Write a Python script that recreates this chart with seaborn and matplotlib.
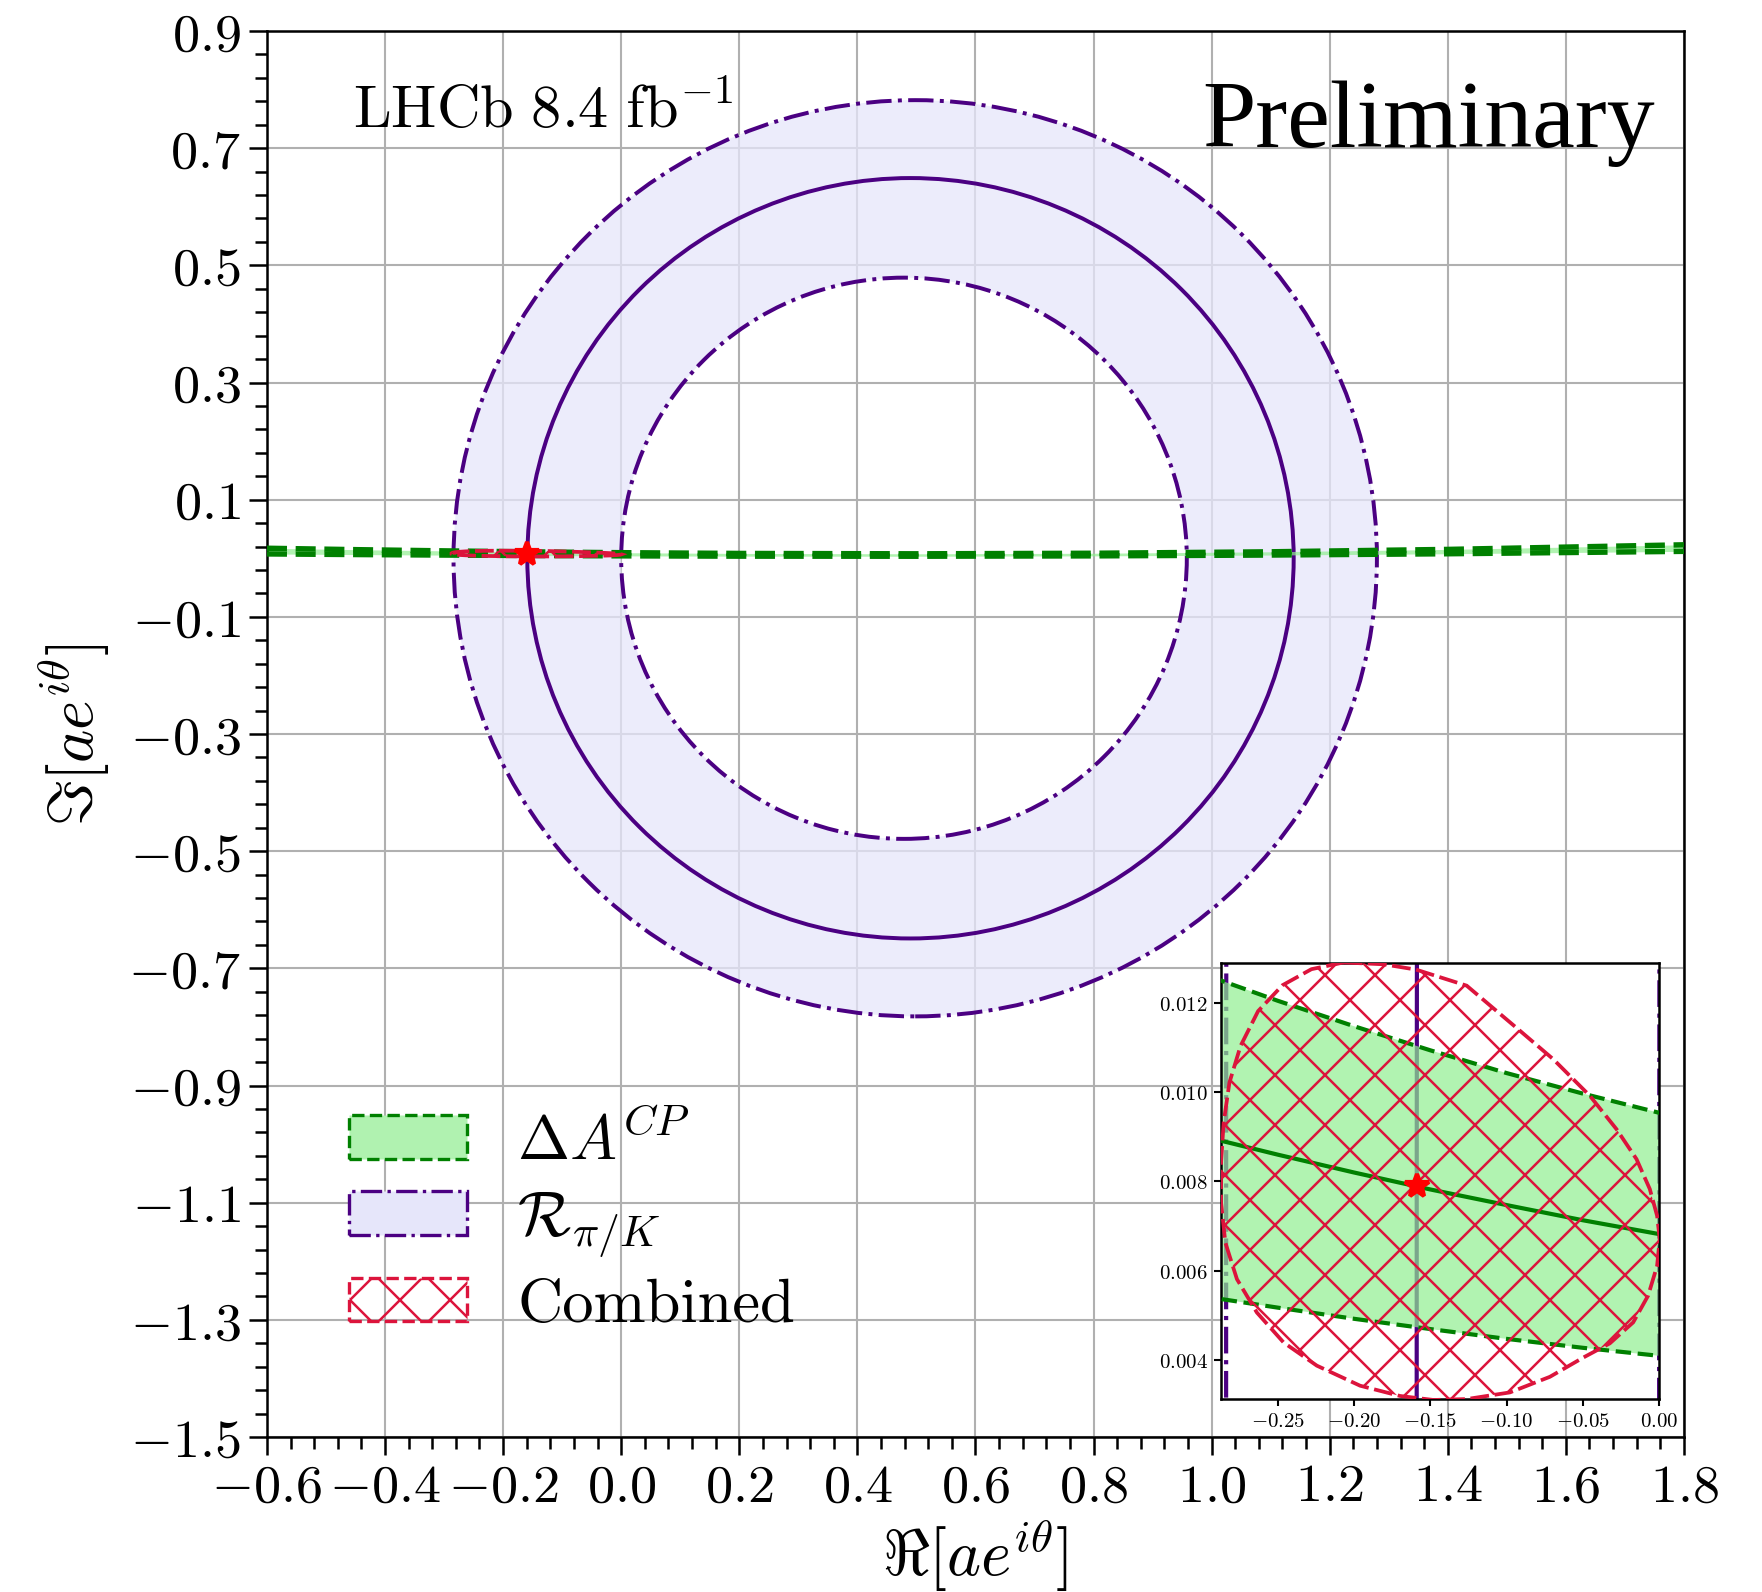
import numpy as np
import matplotlib
matplotlib.use("Agg")
import matplotlib.pyplot as plt
import matplotlib.path as mpath
import matplotlib.patches as mpatches
from matplotlib.ticker import FixedLocator, AutoMinorLocator, FuncFormatter
import seaborn as sns

# ---------------- data ----------------
# R_{pi/K} contours: (outer -1sigma, central, inner +1sigma) circles
ring_cx = [0.498, 0.490, 0.479]
ring_cy = [0.0, 0.0, 0.0]
ring_r = [0.782, 0.649, 0.479]

# Delta A^CP band (central value and 1 sigma edges)
band_x = [-0.6, -0.45, -0.3, -0.25, -0.2, -0.15, -0.1, -0.05, 0.0,
          0.2, 0.5, 0.8, 1.1, 1.4, 1.8]
band_mid = [0.0120, 0.01041, 0.00902, 0.00860, 0.00820, 0.00782, 0.00747,
            0.00713, 0.00682, 0.00588, 0.00546, 0.00623, 0.00819, 0.01134, 0.0174]
band_hi = [0.01711, 0.01472, 0.01266, 0.01205, 0.01148, 0.01094, 0.01043,
           0.00997, 0.00954, 0.00825, 0.00762, 0.00855, 0.01106, 0.01513, 0.0230]
band_lo = [0.00738, 0.00633, 0.00543, 0.00517, 0.00492, 0.00469, 0.00447,
           0.00427, 0.00409, 0.00357, 0.00344, 0.00407, 0.00548, 0.00768, 0.0118]

# combined 1 sigma contour
comb_x = [-0.2070, -0.1808, -0.1594, -0.1262, -0.0913, -0.0694, -0.0454, -0.0279,
          -0.0148, -0.0061, -0.0013, 0.0004, -0.0013, -0.0072, -0.0170, -0.0323,
          -0.0498, -0.0716, -0.0978, -0.1262, -0.1480, -0.1699, -0.1961, -0.2245,
          -0.2463, -0.2638, -0.2769, -0.2845, -0.2873, -0.2873, -0.2856, -0.2818,
          -0.2745, -0.2630, -0.2470, -0.2280]
comb_y = [0.01291, 0.01287, 0.01275, 0.01239, 0.01138, 0.01074, 0.00992, 0.00917,
          0.00850, 0.00783, 0.00723, 0.00671, 0.00611, 0.00544, 0.00484, 0.00437,
          0.00405, 0.00362, 0.00327, 0.00312, 0.00310, 0.00319, 0.00342, 0.00387,
          0.00439, 0.00506, 0.00581, 0.00663, 0.00753, 0.00843, 0.00932, 0.01022,
          0.01104, 0.01182, 0.01240, 0.01276]

# best fit point
best_x, best_y = -0.159, 0.00789

xticks = [-0.6, -0.4, -0.2, 0.0, 0.2, 0.4, 0.6, 0.8, 1.0, 1.2, 1.4, 1.6, 1.8]
yticks = [0.9, 0.7, 0.5, 0.3, 0.1, -0.1, -0.3, -0.5, -0.7, -0.9, -1.1, -1.3, -1.5]
inset_xticks = [-0.25, -0.20, -0.15, -0.10, -0.05, 0.00]
inset_yticks = [0.004, 0.006, 0.008, 0.010, 0.012]

# ---------------- style ----------------
sns.set_style("ticks")
plt.rcParams.update({
    "font.family": "serif",
    "font.serif": ["cmr10"],
    "mathtext.fontset": "cm",
    "axes.formatter.use_mathtext": True,
    "hatch.linewidth": 0.6,
    "text.color": "black",
    "axes.labelcolor": "black",
    "xtick.color": "black",
    "ytick.color": "black",
    "axes.edgecolor": "black",
})

GREEN_FILL = "lightgreen"
GREEN = "green"
PURPLE = "indigo"
RED = "crimson"
DASH = (0, (3.7, 1.6))

fig = plt.figure(figsize=(1762 / 300, 1593 / 300), dpi=300)
ax = fig.add_axes([0.1515, 0.0973, 0.8042, 0.8826])


def circle_pts(cx, cy, r, n=1441, reverse=False):
    t = np.linspace(0, 2 * np.pi, n)
    if reverse:
        t = t[::-1]
    return np.column_stack([cx + r * np.cos(t), cy + r * np.sin(t)])


def draw_rings(a, fill, lw):
    if fill:
        outer = circle_pts(ring_cx[0], ring_cy[0], ring_r[0])
        inner = circle_pts(ring_cx[2], ring_cy[2], ring_r[2], reverse=True)
        verts = np.vstack([outer, inner])
        codes = np.full(len(verts), mpath.Path.LINETO)
        codes[0] = mpath.Path.MOVETO
        codes[len(outer)] = mpath.Path.MOVETO
        ann = mpatches.PathPatch(mpath.Path(verts, codes), facecolor="lavender",
                                 alpha=0.75, edgecolor="none", zorder=1)
        a.add_patch(ann)
    styles = ["-.", "-", "-."]
    for cx, cy, r, ls in zip(ring_cx, ring_cy, ring_r, styles):
        a.add_patch(mpatches.Circle((cx, cy), r, fill=False, edgecolor=PURPLE,
                                    lw=lw, linestyle=ls, zorder=2))


def draw_band(a, central, lw):
    a.fill_between(band_x, band_lo, band_hi, color=GREEN_FILL, alpha=0.7,
                   lw=0, zorder=2)
    for yy in (band_hi, band_lo):
        sns.lineplot(x=band_x, y=yy, ax=a, color=GREEN, lw=lw, linestyle=DASH,
                     sort=False, legend=False, zorder=3)
    if central:
        sns.lineplot(x=band_x, y=band_mid, ax=a, color=GREEN, lw=lw,
                     sort=False, legend=False, zorder=3)


def draw_combined(a):
    a.add_patch(mpatches.Polygon(np.column_stack([comb_x, comb_y]), closed=True,
                                 facecolor="none", edgecolor=RED, hatch="xx",
                                 lw=0.9, linestyle=(0, (5, 1.5)), zorder=4))
    a.plot([best_x], [best_y], marker="*", color="red", ms=6, ls="none", zorder=6)


# ---------------- main panel ----------------
draw_rings(ax, fill=True, lw=0.95)
draw_band(ax, central=False, lw=1.3)
draw_combined(ax)

ax.set_xlim(-0.6, 1.8)
ax.set_ylim(-1.5, 0.9)
ax.xaxis.set_major_locator(FixedLocator(xticks))
ax.yaxis.set_major_locator(FixedLocator(yticks))
ax.xaxis.set_minor_locator(AutoMinorLocator(5))
ax.yaxis.set_minor_locator(AutoMinorLocator(5))
fmt1 = FuncFormatter(lambda v, p: f"${v:.1f}$")
ax.xaxis.set_major_formatter(fmt1)
ax.yaxis.set_major_formatter(fmt1)
ax.tick_params(which="major", direction="out", length=4.3, width=0.6,
               labelsize=13, pad=2, top=False, right=False)
ax.tick_params(which="minor", direction="out", length=2.9, width=0.6,
               top=False, right=False)
ax.set_axisbelow(True)
ax.grid(True, which="major", color="#b0b0b0", lw=0.5)
for s in ax.spines.values():
    s.set_linewidth(0.6)
    s.set_color("black")
ax.set_xlabel(r"$\Re[ae^{i\theta}]$", fontsize=15.5, labelpad=1.5)
ax.set_ylabel(r"$\Im[ae^{i\theta}]$", fontsize=15.2, labelpad=4)

ax.text(0.061, 0.932, r"$\mathrm{LHCb\ 8.4\ fb}^{-1}$", transform=ax.transAxes,
        fontsize=14.5, ha="left", va="baseline")
ax.text(0.9795, 0.918, "Preliminary", transform=ax.transAxes,
        fontsize=23, ha="right", va="baseline",
        family=["Liberation Serif", "DejaVu Serif"])

handles = [
    mpatches.Patch(facecolor=(0.69, 0.95, 0.69), edgecolor=GREEN,
                   linestyle=DASH, lw=0.8),
    mpatches.Patch(facecolor="lavender", edgecolor=PURPLE, linestyle="-.", lw=0.8),
    mpatches.Patch(facecolor="none", edgecolor=RED, hatch="xx", linestyle=DASH, lw=0.8),
]
labels = [r"$\Delta A^{CP}$", r"$\mathcal{R}_{\pi/K}$", "Combined"]
ax.legend(handles, labels, loc="upper left", bbox_to_anchor=(0.04, 0.250),
          borderaxespad=0, frameon=False, fontsize=15, handlelength=1.9,
          handleheight=0.7, labelspacing=0.3)

# ---------------- zoomed inset ----------------
axin = fig.add_axes([0.693, 0.1211, 0.2486, 0.2738])
axin.set_facecolor("white")
draw_rings(axin, fill=False, lw=1.0)
draw_band(axin, central=True, lw=1.0)
draw_combined(axin)
axin.set_xlim(-0.2873, 0.0)
axin.set_ylim(0.00312, 0.0129)
axin.xaxis.set_major_locator(FixedLocator(inset_xticks))
axin.yaxis.set_major_locator(FixedLocator(inset_yticks))
axin.xaxis.set_major_formatter(FuncFormatter(lambda v, p: f"${v:.2f}$"))
axin.yaxis.set_major_formatter(FuncFormatter(lambda v, p: f"${v:.3f}$"))
axin.tick_params(direction="out", length=1.7, width=0.5, labelsize=5, pad=1.5)
axin.grid(False)
axin.set_xlabel("")
axin.set_ylabel("")
for s in axin.spines.values():
    s.set_linewidth(0.6)
    s.set_color("black")

fig.savefig("out.png", dpi=300)
